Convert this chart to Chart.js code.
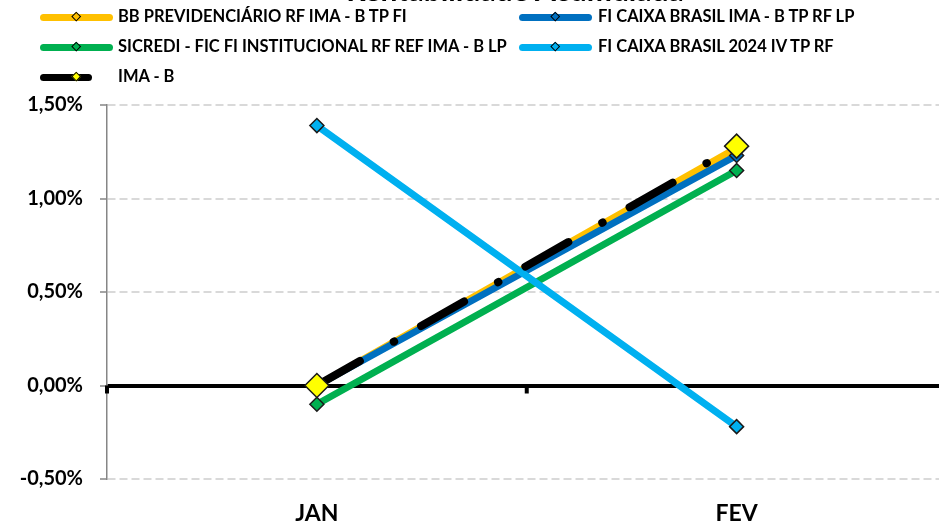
<!DOCTYPE html>
<html>
<head>
<meta charset="utf-8">
<script src="https://cdn.jsdelivr.net/npm/chart.js@4.4.1/dist/chart.umd.min.js"></script>
<style>
  html, body { margin: 0; padding: 0; background: #fff; overflow: hidden; }
  body { width: 939px; height: 525px; position: relative; font-family: Lato, "Open Sans", sans-serif; }
  #wrap { position: absolute; left: 0; top: 0; width: 960px; height: 525px; }
  #title { position: absolute; left: 0; top: -26px; width: 1030px; text-align: center;
           font: bold 30px/30px Lato, sans-serif; color: #000; white-space: nowrap; }
  .lg-line { position: absolute; height: 7px; border-radius: 3.5px; }
  .lg-mark { position: absolute; width: 4.5px; height: 4.5px; border: 1.5px solid #000; transform: rotate(45deg); }
  .lg-text { position: absolute; font: bold 16.5px/1.2 Lato, sans-serif; color: #000; white-space: nowrap; }
</style>
</head>
<body>
<div id="wrap"><canvas id="chart"></canvas></div>
<div id="title">Rentabilidade Acumulada</div>
<div id="legend"></div>
<script>
// dados (% acumulado)
const months = ['JAN', 'FEV'];
const seriesNames = [
  'BB PREVIDENCIÁRIO RF IMA - B TP FI',
  'FI CAIXA BRASIL IMA - B TP RF LP',
  'SICREDI - FIC FI INSTITUCIONAL RF REF IMA - B LP',
  'FI CAIXA BRASIL 2024 IV TP RF',
  'IMA - B'
];
const bbPrev = [0.00, 1.27];
const caixaImaB = [0.00, 1.23];
const sicredi = [-0.10, 1.15];
const caixa2024 = [1.39, -0.22];
const imaB = [0.00, 1.28];

const lineColors = ['#FFC000', '#0070C0', '#00B050', '#00B0F0', '#000000'];
const markColors = ['#FFC000', '#0070C0', '#00B050', '#00B0F0', '#FFFF00'];

const fmtPct = v => v.toFixed(2).replace('.', ',') + '%';

const makeSet = (i, data, extra) => Object.assign({
  label: seriesNames[i],
  data: data,
  borderColor: lineColors[i],
  backgroundColor: markColors[i],
  borderWidth: 7,
  borderCapStyle: 'round',
  pointStyle: 'rectRot',
  pointRadius: 7,
  pointHoverRadius: 7,
  pointBackgroundColor: markColors[i],
  pointBorderColor: '#1a1a1a',
  pointBorderWidth: 1.5,
  tension: 0,
  order: 5 - i
}, extra || {});

// marcas de divisao no eixo zero
const zeroTicks = {
  id: 'zeroTicks',
  beforeDatasetsDraw(chart) {
    const x = chart.scales.x, y = chart.scales.y;
    const y0 = y.getPixelForValue(0);
    const step = (x.right - x.left) / months.length;
    const ctx = chart.ctx;
    ctx.save();
    ctx.strokeStyle = '#000';
    ctx.lineWidth = 4;
    for (let i = 0; i <= months.length; i++) {
      const px = x.left + i * step;
      ctx.beginPath();
      ctx.moveTo(px, y0);
      ctx.lineTo(px, y0 + 8);
      ctx.stroke();
    }
    ctx.restore();
  }
};

const chart = new Chart(document.getElementById('chart'), {
  type: 'line',
  data: {
    labels: months,
    datasets: [
      makeSet(0, bbPrev),
      makeSet(1, caixaImaB),
      makeSet(2, sicredi),
      makeSet(3, caixa2024),
      makeSet(4, imaB, { borderWidth: 8, borderDash: [49.5, 39, 0.5, 31], pointRadius: 12, pointHoverRadius: 12 })
    ]
  },
  options: {
    responsive: true,
    maintainAspectRatio: false,
    animation: false,
    layout: { padding: { left: 0, top: 105, right: 7, bottom: 0 } },
    plugins: { legend: { display: false }, tooltip: { enabled: false }, title: { display: false } },
    scales: {
      x: {
        offset: true,
        grid: { display: false, drawTicks: false },
        border: { display: false },
        ticks: { color: '#000', padding: 21, font: { family: 'Lato', size: 23, weight: 'bold' } },
        afterFit: (scale) => { scale.height = 46; }
      },
      y: {
        min: -0.5,
        max: 1.5,
        ticks: {
          stepSize: 0.5,
          padding: 17,
          color: '#000',
          font: { family: 'Lato', size: 20, weight: 'bold' },
          callback: (v) => fmtPct(v)
        },
        grid: {
          color: (c) => c.tick && c.tick.value === 0 ? '#000' : '#d9d9d9',
          lineWidth: (c) => c.tick && c.tick.value === 0 ? 4 : 2,
          tickColor: '#868686',
          tickWidth: 1.5,
          tickLength: 7
        },
        border: {
          color: '#868686',
          width: 1.5,
          dash: (c) => c.tick && c.tick.value === 0 ? [] : [8, 4]
        },
        afterFit: (scale) => { scale.width = 107; }
      }
    }
  },
  plugins: [zeroTicks]
});

// legenda em duas colunas
const legendPos = [
  { x: 40, len: 73, mark: 77, text: 118, y: 17 },
  { x: 519, len: 73, mark: 556, text: 598, y: 17 },
  { x: 40, len: 73, mark: 77, text: 118, y: 47 },
  { x: 519, len: 73, mark: 556, text: 598, y: 47 },
  { x: 40, len: 52, mark: 77, text: 118, y: 77 }
];
const legend = document.getElementById('legend');
chart.data.datasets.forEach((ds, i) => {
  const p = legendPos[i];
  const line = document.createElement('div');
  line.className = 'lg-line';
  line.style.left = p.x + 'px';
  line.style.top = (p.y - 3.5) + 'px';
  line.style.width = p.len + 'px';
  line.style.background = lineColors[i];
  const mark = document.createElement('div');
  mark.className = 'lg-mark';
  mark.style.left = (p.mark - 3.75) + 'px';
  mark.style.top = (p.y - 3.75) + 'px';
  mark.style.background = markColors[i];
  const txt = document.createElement('div');
  txt.className = 'lg-text';
  txt.style.left = p.text + 'px';
  txt.style.top = (p.y - 10.4) + 'px';
  txt.textContent = ds.label;
  legend.appendChild(line);
  legend.appendChild(mark);
  legend.appendChild(txt);
});
</script>
</body>
</html>
